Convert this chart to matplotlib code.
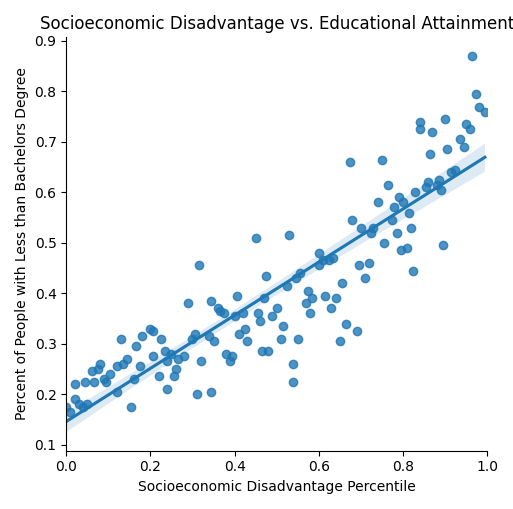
import numpy as np
import pandas as pd
import matplotlib
matplotlib.use("Agg")
import matplotlib.pyplot as plt
import seaborn as sns

disadvantage = [0.00, 0.01, 0.02, 0.02, 0.03, 0.04, 0.045, 0.05, 0.06, 0.065, 0.075, 0.08, 0.09, 0.095,
                0.105, 0.12, 0.12, 0.13, 0.135, 0.145, 0.155, 0.16, 0.165, 0.175, 0.18, 0.2, 0.205, 0.205,
                0.22, 0.225, 0.235, 0.24, 0.24, 0.25, 0.255, 0.26, 0.265, 0.28, 0.29, 0.3, 0.305, 0.31,
                0.315, 0.32, 0.34, 0.345, 0.345, 0.35, 0.36, 0.365, 0.375, 0.38, 0.39, 0.395, 0.4, 0.405,
                0.41, 0.42, 0.425, 0.43, 0.45, 0.455, 0.46, 0.465, 0.47, 0.475, 0.48, 0.49, 0.5, 0.51,
                0.515, 0.525, 0.53, 0.54, 0.54, 0.545, 0.55, 0.555, 0.57, 0.575, 0.58, 0.585, 0.6, 0.6,
                0.61, 0.615, 0.625, 0.63, 0.635, 0.64, 0.65, 0.655, 0.665, 0.675, 0.68, 0.69, 0.695, 0.7,
                0.71, 0.72, 0.725, 0.73, 0.74, 0.75, 0.755, 0.765, 0.775, 0.78, 0.785, 0.79, 0.795, 0.8,
                0.81, 0.815, 0.82, 0.825, 0.83, 0.84, 0.84, 0.855, 0.86, 0.865, 0.87, 0.88, 0.885, 0.89,
                0.895, 0.9, 0.905, 0.915, 0.925, 0.935, 0.945, 0.95, 0.96, 0.965, 0.975, 0.98, 0.995]
no_bachelors = [0.175, 0.165, 0.19, 0.22, 0.18, 0.175, 0.225, 0.18, 0.245, 0.225, 0.25, 0.26, 0.23, 0.225,
                0.24, 0.205, 0.255, 0.31, 0.26, 0.27, 0.175, 0.23, 0.295, 0.255, 0.315, 0.33, 0.325, 0.275,
                0.235, 0.31, 0.285, 0.265, 0.21, 0.28, 0.235, 0.25, 0.27, 0.275, 0.38, 0.31, 0.32, 0.2,
                0.455, 0.265, 0.315, 0.385, 0.205, 0.305, 0.37, 0.365, 0.36, 0.28, 0.265, 0.275, 0.355, 0.395,
                0.32, 0.36, 0.33, 0.305, 0.51, 0.36, 0.345, 0.285, 0.39, 0.435, 0.285, 0.355, 0.37, 0.31,
                0.335, 0.415, 0.515, 0.26, 0.225, 0.43, 0.31, 0.44, 0.38, 0.405, 0.36, 0.39, 0.48, 0.455,
                0.465, 0.395, 0.465, 0.37, 0.47, 0.39, 0.305, 0.42, 0.34, 0.66, 0.545, 0.325, 0.455, 0.53,
                0.43, 0.46, 0.52, 0.53, 0.58, 0.665, 0.5, 0.615, 0.545, 0.57, 0.52, 0.59, 0.485, 0.58,
                0.49, 0.56, 0.53, 0.445, 0.6, 0.725, 0.74, 0.61, 0.62, 0.675, 0.72, 0.615, 0.625, 0.605,
                0.495, 0.745, 0.685, 0.64, 0.645, 0.705, 0.69, 0.735, 0.725, 0.87, 0.795, 0.77, 0.76]

df = pd.DataFrame({"x": disadvantage, "y": no_bachelors})

g = sns.lmplot(data=df, x="x", y="y", height=5, seed=0)
g.figure.set_size_inches(5.13, 5.09)
ax = g.ax
ax.set_xlim(0, 1)
ax.set_xlabel("Socioeconomic Disadvantage Percentile")
ax.set_ylabel("Percent of People with Less than Bachelors Degree")
ax.set_title("Socioeconomic Disadvantage vs. Educational Attainment")
g.figure.tight_layout()
g.figure.savefig("out.png", dpi=100)
